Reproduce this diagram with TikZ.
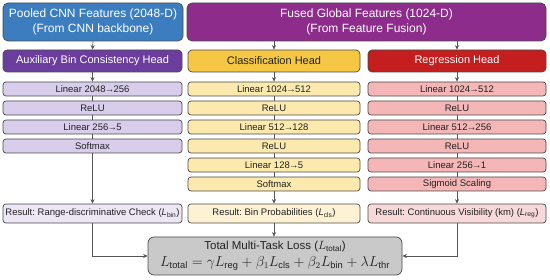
\documentclass[tikz,border=0pt]{standalone}
\usepackage{fontspec}
\setmainfont{Liberation Sans}
\usetikzlibrary{arrows.meta}
\frenchspacing
\newcommand\myarr{\kern-0.8pt→\kern-0.8pt}
\definecolor{bordc}{HTML}{4A4A4A}
\definecolor{linec}{HTML}{555555}
\definecolor{topblue}{HTML}{3C7DBF}
\definecolor{toppurple}{HTML}{8E2C8C}
\definecolor{auxhead}{HTML}{6B3D9E}
\definecolor{clshead}{HTML}{F6C744}
\definecolor{reghead}{HTML}{C41E1E}
\definecolor{auxlayer}{HTML}{D9CDEC}
\definecolor{clslayer}{HTML}{FBE9AE}
\definecolor{reglayer}{HTML}{F4B6B6}
\definecolor{auxres}{HTML}{ECE6F5}
\definecolor{clsres}{HTML}{FDF3D4}
\definecolor{regres}{HTML}{F8D9D9}
\definecolor{totalc}{HTML}{C9C9C9}
\definecolor{textc}{HTML}{222222}
\tikzset{
  box/.style={draw=bordc, line width=0.7pt, rounded corners=3pt, inner sep=0pt, align=center, text=textc},
  topbox/.style={box, rounded corners=5pt, minimum height=38pt, text=white, font=\fontsize{12}{15}\selectfont},
  headbox/.style={box, rounded corners=4pt, minimum height=22pt, font=\fontsize{11}{13}\selectfont},
  layer/.style={box, minimum height=14pt, font=\fontsize{9.5}{11}\selectfont},
  resbox/.style={box, minimum height=19pt, font=\fontsize{9.5}{11}\selectfont},
  auxw/.style={minimum width=179pt},
  clsw/.style={minimum width=172pt},
  regw/.style={minimum width=178pt},
  conn/.style={draw=linec, line width=0.7pt},
  arr/.style={conn, -{Stealth[length=4.5pt,width=4pt]}},
}
\begin{document}
\begin{tikzpicture}[x=1pt,y=-1pt]
\useasboundingbox (0,0) rectangle (550,280);
% top boxes
\node[topbox, fill=topblue, minimum width=180pt] (tb) at (93,22) {Pooled CNN Features (2048-D)\\(From CNN backbone)};
\node[topbox, fill=toppurple, minimum width=359pt] (tp) at (366.5,22) {Fused Global Features (1024-D)\\(From Feature Fusion)};
% heads
\node[headbox, auxw, fill=auxhead, text=white] (ah) at (92.5,61) {Auxiliary Bin Consistency Head};
\node[headbox, clsw, fill=clshead] (ch) at (274,61) {Classification Head};
\node[headbox, regw, fill=reghead, text=white] (rh) at (457,61) {Regression Head};
% aux layers
\node[layer, auxw, fill=auxlayer] (a1) at (92.5,89) {Linear 2048\myarr256};
\node[layer, auxw, fill=auxlayer] (a2) at (92.5,108) {ReLU};
\node[layer, auxw, fill=auxlayer] (a3) at (92.5,127) {Linear 256\myarr5};
\node[layer, auxw, fill=auxlayer] (a4) at (92.5,146) {Softmax};
% cls layers
\node[layer, clsw, fill=clslayer] (c1) at (274,89) {Linear 1024\myarr512};
\node[layer, clsw, fill=clslayer] (c2) at (274,108) {ReLU};
\node[layer, clsw, fill=clslayer] (c3) at (274,127) {Linear 512\myarr128};
\node[layer, clsw, fill=clslayer] (c4) at (274,146) {ReLU};
\node[layer, clsw, fill=clslayer] (c5) at (274,165) {Linear 128\myarr5};
\node[layer, clsw, fill=clslayer] (c6) at (274,184) {Softmax};
% reg layers
\node[layer, regw, fill=reglayer] (r1) at (457,89) {Linear 1024\myarr512};
\node[layer, regw, fill=reglayer] (r2) at (457,108) {ReLU};
\node[layer, regw, fill=reglayer] (r3) at (457,127) {Linear 512\myarr256};
\node[layer, regw, fill=reglayer] (r4) at (457,146) {ReLU};
\node[layer, regw, fill=reglayer] (r5) at (457,165) {Linear 256\myarr1};
\node[layer, regw, fill=reglayer] (r6) at (457,184) {Sigmoid Scaling};
% results
\node[resbox, auxw, fill=auxres] (ar) at (92.5,213.5) {Result: Range-discriminative Check (\textit{L}\textsubscript{bin})};
\node[resbox, clsw, fill=clsres] (cr) at (274,213.5) {Result: Bin Probabilities (\textit{L}\textsubscript{cls})};
\node[resbox, regw, fill=regres] (rr) at (457,213.5) {Result: Continuous Visibility (km) (\textit{L}\textsubscript{reg})};
% total
\node[box, fill=totalc, rounded corners=6pt, minimum width=254pt, minimum height=38pt, font=\fontsize{11.5}{17}\selectfont] (tot) at (275,256)
  {Total Multi-Task Loss ($L_{\mathrm{total}}$)\\[0pt]
   \fontsize{13.3}{15}\selectfont$L_{\mathrm{total}} = \gamma L_{\mathrm{reg}} + \beta_1 L_{\mathrm{cls}} + \beta_2 L_{\mathrm{bin}} + \lambda L_{\mathrm{thr}}$};
% connectors
\draw[arr] (tb.south) -- (ah.north);
\draw[arr] (ch.north |- tp.south) -- (ch.north);
\draw[arr] (rh.north |- tp.south) -- (rh.north);
\draw[arr] (ah) -- (a1);
\draw[conn] (a1) -- (a2);
\draw[conn] (a2) -- (a3);
\draw[conn] (a3) -- (a4);
\draw[arr] (a4) -- (ar);
\draw[arr] (ch) -- (c1);
\draw[conn] (c1) -- (c2);
\draw[conn] (c2) -- (c3);
\draw[conn] (c3) -- (c4);
\draw[conn] (c4) -- (c5);
\draw[conn] (c5) -- (c6);
\draw[arr] (c6) -- (cr);
\draw[arr] (rh) -- (r1);
\draw[conn] (r1) -- (r2);
\draw[conn] (r2) -- (r3);
\draw[conn] (r3) -- (r4);
\draw[conn] (r4) -- (r5);
\draw[conn] (r5) -- (r6);
\draw[arr] (r6) -- (rr);
\draw[arr] (cr.south) -- (cr.south |- tot.north);
\draw[arr] (ar.south) |- (tot.west);
\draw[arr] (rr.south) |- (tot.east);
\end{tikzpicture}
\end{document}
